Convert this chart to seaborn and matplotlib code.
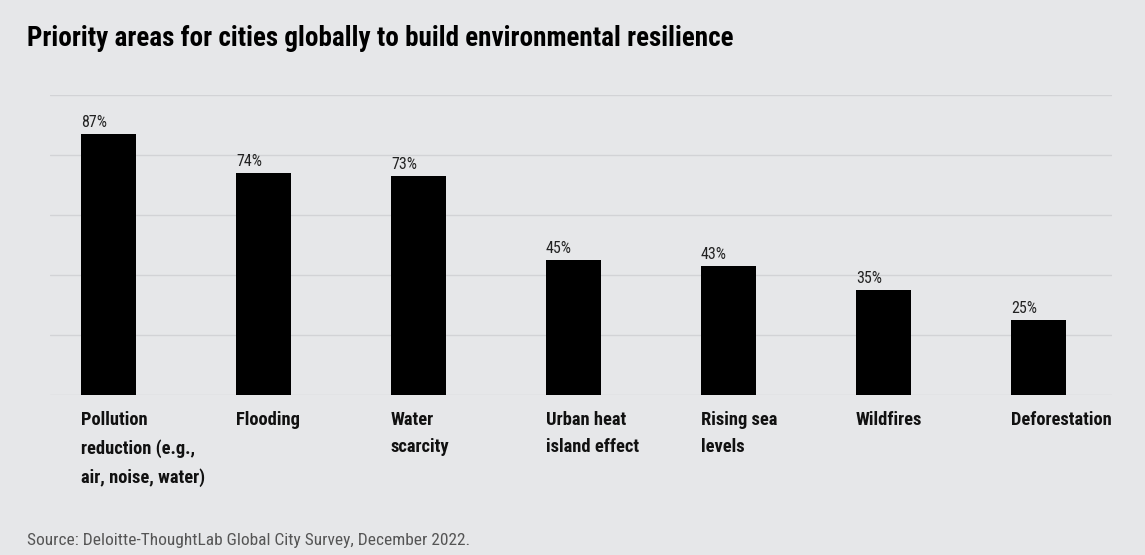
import matplotlib
matplotlib.use("Agg")
import matplotlib.pyplot as plt
import matplotlib.transforms as mtransforms
from matplotlib import font_manager
import seaborn as sns
import pandas as pd

# -------------------
# DATA
# -------------------
categories = [
    "Pollution\nreduction (e.g.,\nair, noise, water)",
    "Flooding",
    "Water\nscarcity",
    "Urban heat\nisland effect",
    "Rising sea\nlevels",
    "Wildfires",
    "Deforestation",
]
values = [87, 74, 73, 45, 43, 35, 25]
title = "Priority areas for cities globally to build environmental resilience"
source = "Source: Deloitte-ThoughtLab Global City Survey, December 2022."

BG = "#e6e7e9"
GRID = "#d2d3d6"

sns.set_theme(style="white")

# pick a narrow face if one is around
installed = {f.name for f in font_manager.fontManager.ttflist}
narrow = [n for n in ["Roboto Condensed", "Liberation Sans Narrow",
                      "DejaVu Sans Condensed"] if n in installed]
plt.rcParams["font.family"] = narrow + ["DejaVu Sans"]
plt.rcParams["font.stretch"] = "condensed"

df = pd.DataFrame({"area": categories, "pct": values})

fig = plt.figure(figsize=(11.45, 5.55), dpi=100, facecolor=BG)
ax = fig.add_axes([50 / 1145, 1 - 395 / 555, 1062 / 1145, 300 / 555])
ax.set_facecolor(BG)

sns.barplot(data=df, x="area", y="pct", color="black", width=0.355,
            saturation=1, linewidth=0, ax=ax)

ax.set_xlim(-0.377, -0.377 + 1062 / 155)
ax.set_ylim(0, 100)
ax.set_yticks(range(0, 101, 20))
ax.yaxis.grid(True, color=GRID, linewidth=1)
ax.set_axisbelow(True)
ax.tick_params(left=False, bottom=False, labelleft=False, labelbottom=False)
for s in ax.spines.values():
    s.set_visible(False)
ax.set_xlabel("")
ax.set_ylabel("")

# value labels + category labels, left aligned on each bar
below = mtransforms.blended_transform_factory(ax.transData, ax.transAxes)
for bar, lab, v in zip(ax.patches, categories, values):
    x0 = bar.get_x()
    ax.annotate(f"{v}%", (x0, bar.get_height()), xytext=(0, 3),
                textcoords="offset points", ha="left", va="bottom",
                fontsize=11.5, color="#222222")
    ax.text(x0, -0.052, lab, transform=below, ha="left", va="top",
            fontsize=13.3, fontweight="bold", color="#111111",
            linespacing=1.7)

fig.text(27 / 1145, 1 - 38 / 555, title, ha="left", va="center",
         fontsize=19.5, fontweight="heavy", color="black")
fig.text(27 / 1145, 1 - 540 / 555, source, ha="left", va="center",
         fontsize=12.5, color="#555555")

fig.savefig("out.png", dpi=100, facecolor=BG)
